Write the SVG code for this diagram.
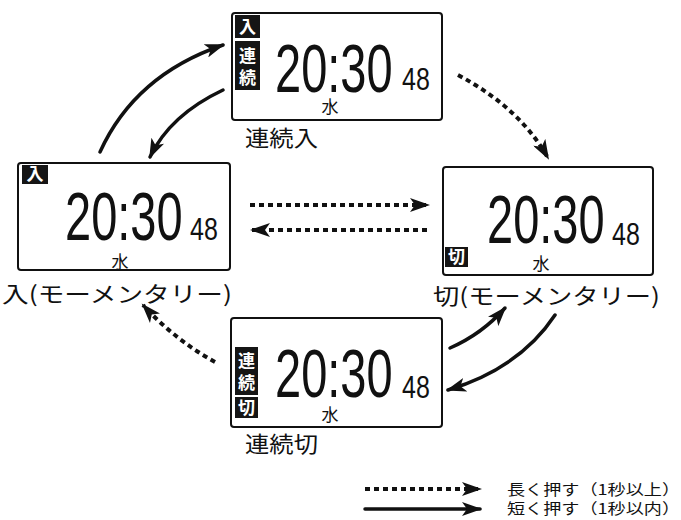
<svg xmlns="http://www.w3.org/2000/svg" width="681" height="520" viewBox="0 0 681 520">
<style>
.box{fill:#fff;stroke:#111;stroke-width:2}
.tag{fill:#151515}
.tagt{fill:#fff;font-family:"Noto Sans CJK JP",sans-serif;font-size:17px;font-weight:bold;text-anchor:middle}
.dig{fill:#111;font-family:"Liberation Sans",Arial,sans-serif;font-size:47px}
.sm{fill:#111;font-family:"Liberation Sans",Arial,sans-serif;font-size:25px}
.day{fill:#111;font-family:"Noto Sans CJK JP",sans-serif;font-size:17px;text-anchor:middle}
.lbl{fill:#111;font-family:"Noto Sans CJK JP",sans-serif;font-size:22px}
.leg{fill:#111;font-family:"Noto Sans CJK JP",sans-serif;font-size:15px}
.solid{fill:none;stroke:#111;stroke-width:3.5;stroke-linecap:round;marker-end:url(#ah)}
.dot{fill:none;stroke:#111;stroke-width:4;stroke-dasharray:5 4;marker-end:url(#ah)}
</style>
<defs>
<marker id="ah" markerUnits="userSpaceOnUse" markerWidth="22" markerHeight="14" refX="18" refY="7" orient="auto" viewBox="0 0 22 14">
<path d="M0,0 L20,7 L0,14 L5,7 Z" fill="#111"/>
</marker>
</defs>

<g id="node-top">
<rect class="box" x="232" y="13" width="210" height="107" rx="3"/>
<rect class="tag" x="235" y="15" width="25" height="23"/>
<text class="tagt" x="247.5" y="33">入</text>
<rect class="tag" x="235" y="41" width="25" height="49"/>
<text class="tagt" x="247.5" y="62">連</text>
<text class="tagt" x="247.5" y="84">続</text>
<text class="dig" transform="translate(275,92) scale(1,1.45)">20:30</text>
<text class="sm" transform="translate(402,90) scale(1,1.22)">48</text>
<text class="day" x="330" y="113">水</text>
<text class="lbl" x="245" y="146" textLength="73" lengthAdjust="spacingAndGlyphs">連続入</text>
</g>

<g id="node-left">
<rect class="box" x="18" y="163" width="212" height="107" rx="3"/>
<rect class="tag" x="22" y="165" width="26" height="19"/>
<text class="tagt" x="35" y="180">入</text>
<text class="dig" transform="translate(65,240) scale(1,1.45)">20:30</text>
<text class="sm" transform="translate(190,240) scale(1,1.22)">48</text>
<text class="day" x="120" y="268">水</text>
<text class="lbl" x="2" y="302" textLength="230" lengthAdjust="spacingAndGlyphs">入(モーメンタリー)</text>
</g>

<g id="node-right">
<rect class="box" x="443" y="167" width="210" height="108" rx="3"/>
<rect class="tag" x="445" y="247" width="23" height="20"/>
<text class="tagt" x="456.5" y="263">切</text>
<text class="dig" transform="translate(487,243) scale(1,1.45)">20:30</text>
<text class="sm" transform="translate(612,245) scale(1,1.22)">48</text>
<text class="day" x="541" y="270">水</text>
<text class="lbl" x="433" y="304" textLength="227" lengthAdjust="spacingAndGlyphs">切(モーメンタリー)</text>
</g>

<g id="node-bottom">
<rect class="box" x="231" y="318" width="211" height="109" rx="3"/>
<rect class="tag" x="235" y="347" width="23" height="48"/>
<text class="tagt" x="246.5" y="367">連</text>
<text class="tagt" x="246.5" y="389">続</text>
<rect class="tag" x="235" y="397" width="23" height="21"/>
<text class="tagt" x="246.5" y="414">切</text>
<text class="dig" transform="translate(275,397) scale(1,1.45)">20:30</text>
<text class="sm" transform="translate(402,398) scale(1,1.22)">48</text>
<text class="day" x="330" y="421">水</text>
<text class="lbl" x="245" y="452" textLength="73" lengthAdjust="spacingAndGlyphs">連続切</text>
</g>

<g id="connectors">
<path class="solid" d="M100,152 Q135,75 223,45"/>
<path class="solid" d="M223,90 Q170,115 150,157"/>
<path class="dot" d="M458,75 Q520,108 548,158"/>
<path class="dot" d="M250,205 L428,205"/>
<path class="dot" d="M427,230 L252,230"/>
<path class="solid" d="M450,348 Q482,334 505,308"/>
<path class="solid" d="M555,315 Q520,368 448,390"/>
<path class="dot" d="M215,362 Q175,340 143,305"/>
</g>

<g id="legend">
<path class="dot" d="M365,489 L480,489"/>
<path class="solid" d="M365,509 L480,509"/>
<text class="leg" x="507" y="495" textLength="173" lengthAdjust="spacingAndGlyphs">長く押す（1秒以上）</text>
<text class="leg" x="507" y="514" textLength="173" lengthAdjust="spacingAndGlyphs">短く押す（1秒以内）</text>
</g>
</svg>
